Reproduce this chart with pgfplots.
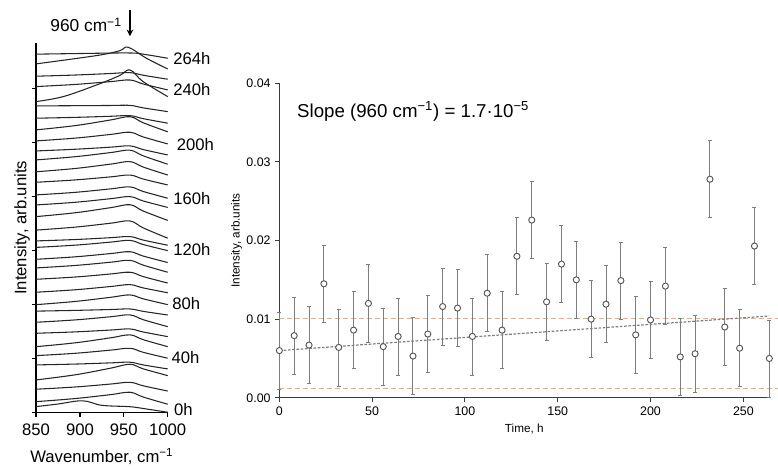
\documentclass[border=0pt]{standalone}
\usepackage{fontspec}
\setmainfont{Liberation Sans}
\usepackage{pgfplots}
\pgfplotsset{compat=1.18}
\usetikzlibrary{arrows.meta}

\definecolor{errgray}{RGB}{125,125,125}
\definecolor{markgray}{RGB}{85,85,85}
\definecolor{axgray}{RGB}{60,60,60}
\definecolor{limorange}{RGB}{247,168,112}

\newcommand{\bigfont}{\fontsize{12.5}{14}\selectfont}
\newcommand{\smallfont}{\fontsize{9.3}{11}\selectfont}

\begin{document}
\begin{tikzpicture}
% ---- left panel: stacked spectra, one curve every 8 h (offset units)
\begin{axis}[
  at={(27pt,41.5pt)}, anchor=south west,
  scale only axis, width=98.8pt, height=277.3pt,
  xmin=850, xmax=1000, ymin=0, ymax=34.23,
  axis lines*=left,
  axis line style={line width=1pt},
  tick align=outside, major tick length=3pt,
  tick style={line width=0.9pt, black},
  xtick={850,900,950,1000},
  ytick={0,5,10,15,20,25,30}, yticklabels={},
  /pgf/number format/assume math mode=true,
  /pgf/number format/1000 sep={},
  tick label style={font=\bigfont},
  xticklabel style={yshift=-2pt},
  xlabel={Wavenumber, cm\textsuperscript{−1}},
  ylabel={Intensity, arb.units},
  label style={font=\bigfont},
  xlabel style={at={(axis description cs:0.5,0)}, anchor=center, yshift=-33pt},
  ylabel style={at={(axis description cs:0,0.5)}, anchor=center, yshift=10.5pt},
  clip=false,
  every axis plot post/.append style={black!85, solid, line width=0.8pt, mark=none, smooth, tension=0.6},
]
\addplot coordinates {(850,0.56) (875,0.80) (903,1.10) (925,0.68) (957,0.55) (975,0.35) (1000,0.04)};
\addplot coordinates {(850,1.02) (895,1.31) (935,1.67) (957,1.89) (972,1.45) (1000,0.78)};
\addplot coordinates {(850,2.17) (895,2.38) (935,2.65) (957,2.81) (972,2.49) (1000,2.00)};
\addplot coordinates {(850,3.03) (895,3.51) (935,4.12) (957,4.48) (972,4.06) (1000,3.43)};
\addplot coordinates {(850,4.42) (895,4.50) (935,4.61) (957,4.67) (972,4.42) (1000,4.05)};
\addplot coordinates {(850,5.28) (895,5.50) (935,5.79) (957,5.96) (972,5.59) (1000,5.04)};
\addplot coordinates {(850,6.11) (895,6.47) (935,6.93) (957,7.20) (972,6.76) (1000,6.11)};
\addplot coordinates {(850,7.35) (895,7.48) (935,7.65) (957,7.75) (972,7.47) (1000,7.04)};
\addplot coordinates {(850,8.37) (895,8.59) (935,8.88) (957,9.05) (972,8.61) (1000,7.96)};
\addplot coordinates {(850,9.40) (895,9.47) (935,9.55) (957,9.60) (972,9.38) (1000,9.04)};
\addplot coordinates {(850,10.00) (895,10.30) (935,10.68) (957,10.90) (972,10.54) (1000,10.00)};
\addplot coordinates {(850,11.15) (895,11.38) (935,11.68) (957,11.85) (972,11.55) (1000,11.10)};
\addplot coordinates {(850,12.35) (895,12.56) (935,12.84) (957,13.00) (972,12.60) (1000,12.00)};
\addplot coordinates {(850,13.40) (895,13.63) (935,13.93) (957,14.10) (972,13.66) (1000,13.00)};
\addplot coordinates {(850,14.20) (895,14.43) (935,14.73) (957,14.90) (972,14.50) (1000,13.90)};
\addplot coordinates {(850,15.30) (895,15.51) (935,15.79) (957,15.95) (972,15.57) (1000,15.00)};
\addplot coordinates {(850,15.90) (895,16.03) (935,16.20) (957,16.30) (972,15.98) (1000,15.50)};
\addplot coordinates {(850,16.90) (895,17.18) (935,17.54) (957,17.75) (972,17.11) (1000,16.15)};
\addplot coordinates {(850,18.15) (895,18.51) (935,18.98) (957,19.25) (972,18.67) (1000,17.80)};
\addplot coordinates {(850,19.23) (895,19.48) (935,19.81) (957,20.00) (972,19.60) (1000,19.00)};
\addplot coordinates {(850,20.16) (895,20.40) (935,20.72) (957,20.90) (972,20.48) (1000,19.85)};
\addplot coordinates {(850,21.33) (895,21.55) (935,21.83) (957,22.00) (972,21.63) (1000,21.08)};
\addplot coordinates {(850,22.30) (895,22.61) (935,23.01) (957,23.24) (972,22.74) (1000,22.00)};
\addplot coordinates {(850,23.40) (895,23.70) (935,24.08) (957,24.30) (972,23.78) (1000,23.00)};
\addplot coordinates {(850,24.23) (895,24.39) (935,24.58) (957,24.70) (972,24.36) (1000,23.86)};
\addplot coordinates {(850,25.16) (895,25.42) (935,25.76) (957,25.96) (972,25.53) (1000,24.88)};
\addplot coordinates {(850,26.18) (895,26.58) (935,27.10) (957,27.40) (972,26.84) (1000,26.00)};
\addplot coordinates {(850,27.26) (895,27.34) (935,27.44) (957,27.50) (972,27.22) (1000,26.80)};
\addplot coordinates {(850,28.40) (895,28.42) (935,28.44) (957,28.45) (972,28.22) (1000,27.87)};
\addplot coordinates {(850,28.80) (881,29.26) (919,30.34) (945,31.20) (957,31.73) (972,30.65) (1000,29.26)};
\addplot coordinates {(850,30.19) (895,30.39) (935,30.65) (957,30.80) (972,30.43) (1000,29.88)};
\addplot coordinates {(850,31.15) (895,31.26) (935,31.40) (957,31.48) (972,31.24) (1000,30.87)};
\addplot coordinates {(850,32.29) (919,33.06) (945,33.50) (955,33.83) (976,32.80) (1000,31.82)};
\addplot coordinates {(850,33.19) (900,33.25) (957,33.30) (975,33.15) (1000,32.81)};

\begin{scope}[every node/.style={anchor=west, inner sep=0pt, font=\bigfont}]
\node at (axis cs:1007,0.25) {0h};
\node at (axis cs:1004,5.1) {40h};
\node at (axis cs:1005,10.06) {80h};
\node at (axis cs:1006,15.06) {120h};
\node at (axis cs:1006,19.8) {160h};
\node at (axis cs:1010,24.8) {200h};
\node at (axis cs:1006,29.9) {240h};
\node at (axis cs:1006,32.8) {264h};
\end{scope}
\node[font=\fontsize{13}{15}\selectfont, inner sep=0pt] at (axis cs:907,35.9) {960 cm\textsuperscript{−1}};
\draw[-{Stealth[length=5pt,width=5pt]}, line width=1.3pt] (axis cs:957,37.3) -- (axis cs:957,34.85);
\end{axis}

% ---- right panel: 960 cm-1 intensity versus time
\begin{axis}[
  at={(209.5pt,52.7pt)}, anchor=south west,
  scale only axis, width=367.5pt, height=235.8pt,
  xmin=0, xmax=264, ymin=0, ymax=0.04,
  axis lines*=left,
  axis line style={line width=0.9pt, axgray},
  tick align=outside, major tick length=3pt,
  tick style={line width=0.8pt, axgray},
  xtick={0,50,100,150,200,250},
  ytick={0,0.01,0.02,0.03,0.04},
  scaled y ticks=false,
  yticklabel style={/pgf/number format/.cd, fixed, fixed zerofill, precision=2},
  /pgf/number format/assume math mode=true,
  tick label style={font=\smallfont},
  xlabel={Time, h},
  ylabel={Intensity, arb.units},
  label style={font=\fontsize{8.8}{10}\selectfont},
  xlabel style={at={(axis description cs:0.5,0)}, anchor=center, yshift=-23.5pt},
  ylabel style={at={(axis description cs:0,0.5)}, anchor=center, yshift=32pt},
  clip=false,
]
\addplot[limorange, line width=0.9pt, dash pattern=on 3.5pt off 2.5pt] coordinates {(0,0.0101) (268.7,0.0101)};
\addplot[limorange, line width=0.9pt, dash pattern=on 3.5pt off 2.5pt] coordinates {(0,0.0012) (268.7,0.0012)};
\addplot[gray, line width=0.9pt, dash pattern=on 2pt off 1.2pt] coordinates {(0,0.0060) (264,0.0104)};
\addplot[only marks, mark=*, mark size=2.3pt,
  mark options={fill=white, draw=markgray, line width=0.7pt},
  error bars/.cd, y dir=both, y explicit,
  error bar style={errgray, line width=0.75pt},
  error mark options={rotate=90, errgray, mark size=1.5pt, line width=0.6pt}]
coordinates {
(0,0.0060) +- (0,0.0049)
(8,0.0079) +- (0,0.0049)
(16,0.0067) +- (0,0.0049)
(24,0.0145) +- (0,0.0049)
(32,0.0064) +- (0,0.0049)
(40,0.0086) +- (0,0.0049)
(48,0.0120) +- (0,0.0049)
(56,0.0065) +- (0,0.0049)
(64,0.0078) +- (0,0.0049)
(72,0.0053) +- (0,0.0049)
(80,0.0081) +- (0,0.0049)
(88,0.0116) +- (0,0.0049)
(96,0.0114) +- (0,0.0049)
(104,0.0078) +- (0,0.0049)
(112,0.0133) +- (0,0.0049)
(120,0.0086) +- (0,0.0049)
(128,0.0180) +- (0,0.0049)
(136,0.0226) +- (0,0.0049)
(144,0.0122) +- (0,0.0049)
(152,0.0170) +- (0,0.0049)
(160,0.0150) +- (0,0.0049)
(168,0.0100) +- (0,0.0049)
(176,0.0119) +- (0,0.0049)
(184,0.0149) +- (0,0.0049)
(192,0.0080) +- (0,0.0049)
(200,0.0099) +- (0,0.0049)
(208,0.0142) +- (0,0.0049)
(216,0.0052) +- (0,0.0049)
(224,0.0056) +- (0,0.0049)
(232,0.0278) +- (0,0.0049)
(240,0.0090) +- (0,0.0049)
(248,0.0063) +- (0,0.0049)
(256,0.0193) +- (0,0.0049)
(264,0.0050) +- (0,0.0049)
};
\node[anchor=west, inner sep=0pt, font=\fontsize{14}{16}\selectfont] at (axis cs:9.5,0.0364)
  {Slope (960 cm\textsuperscript{−1}) = 1.7·10\textsuperscript{−5}};
\end{axis}

\pgfresetboundingbox
\useasboundingbox (0,0) rectangle (583.5pt,351pt);
\end{tikzpicture}
\end{document}
